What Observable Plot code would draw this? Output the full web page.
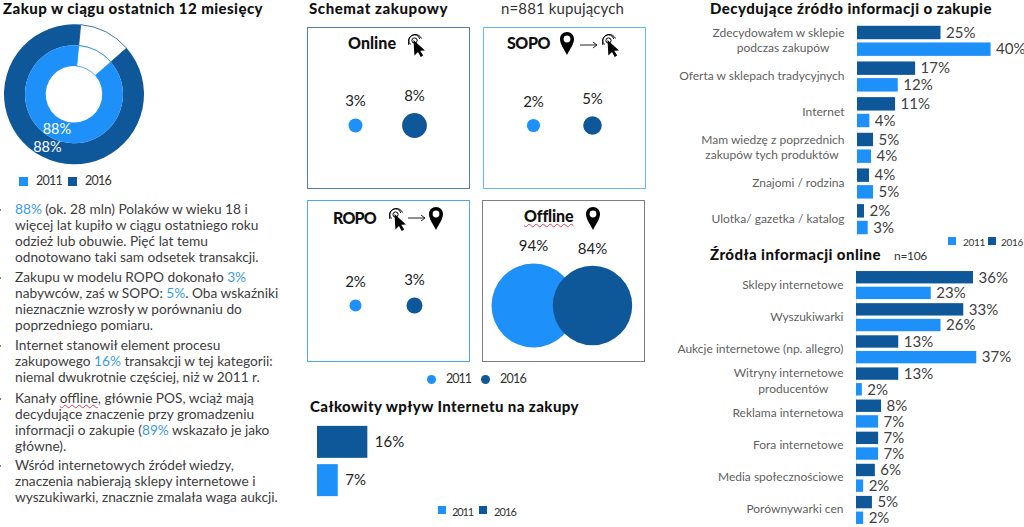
<!DOCTYPE html>
<html lang="pl"><head><meta charset="utf-8">
<script src="https://cdn.jsdelivr.net/npm/d3@7"></script>
<script src="https://cdn.jsdelivr.net/npm/@observablehq/plot@0.6"></script>
<style>
html,body{margin:0;padding:0;background:#fff;}
body{width:1024px;height:527px;position:relative;overflow:hidden;font-family:Lato,sans-serif;color:#333;}
.a{position:absolute;white-space:nowrap;line-height:1;transform:translateY(-50%);}
.plot{position:absolute;}
.plot svg{display:block;overflow:visible;background:transparent;}
.t{font-weight:900;color:#111;font-size:15px;}
.h{font-weight:900;color:#111;font-size:16px;}
.box{position:absolute;box-sizing:border-box;width:163px;height:162px;border:1.5px solid #888;}
.body{position:absolute;left:15px;font-size:13.7px;line-height:16px;color:#3d3d3d;white-space:nowrap;}
.body b{font-weight:400;color:#3a9be0;}
.bullet{position:absolute;left:-1px;width:2px;height:2px;border-radius:50%;background:#555;}
.sq{position:absolute;}
.sq.c{border-radius:50%;}
.squig{text-decoration:underline wavy #d9455f;text-decoration-thickness:1px;text-underline-offset:1px;}
</style></head><body>
<svg width="0" height="0" style="position:absolute"><defs>
<symbol id="pin" viewBox="0 0 14 23"><path fill-rule="evenodd" fill="#000" d="M7 0C3 0 0 3 0 7c0 5 4 10 7 16 3-6 7-11 7-16 0-4-3-7-7-7zm0 3.6A3.4 3.4 0 1 1 7 10.4 3.4 3.4 0 0 1 7 3.6z"/></symbol>
<symbol id="cur" viewBox="0 0 17 23"><g fill="none" stroke="#000" stroke-width="1"><circle cx="6.5" cy="6.5" r="2.6"/><path d="M2.6 10.5A5.6 5.6 0 1 1 11.8 5"/><path d="M0.9 11A7.7 7.7 0 0 1 6.5 0.5 7.7 7.7 0 0 1 13.6 4.5"/></g><path fill="#000" d="M5.5 6l11.5 10.5-4.8.3 3 4.8-2.5 1.4-2.7-5-3.6 3.4z"/></symbol>
<symbol id="arr" viewBox="0 0 18 8"><path fill="none" stroke="#222" stroke-width="1" d="M0 4h17M13 1l4 3-4 3"/></symbol>
</defs></svg>
<script>
// ---------- data ----------
const years = ["2011", "2016"];
const colors = ["#1e90fa", "#0e5799"];
const donut2011 = 88, donut2016 = 88;

const schemeOnline = [2.6, 8.2];
const schemeSopo = [2.3, 4.6];
const schemeRopo = [1.9, 3.4];
const schemeOffline = [94, 84];

const totalInternet2016 = 16, totalInternet2011 = 6.6;

const decisionCategories = ["Zdecydowałem w sklepie\npodczas zakupów\u00a0\u00a0\u00a0\u00a0\u00a0", "Oferta w sklepach tradycyjnych", "Internet", "Mam wiedzę z poprzednich\nzakupów tych produktów\u00a0\u00a0", "Znajomi / rodzina", "Ulotka/ gazetka / katalog"];
const decision2016 = [25, 17.4, 11.4, 4.8, 3.6, 2.1];
const decision2011 = [40, 12.2, 3.7, 4.2, 4.8, 3.2];

const onlineCategories = ["Sklepy internetowe", "Wyszukiwarki", "Aukcje internetowe (np. allegro)", "Witryny internetowe\nproducentów\u00a0\u00a0\u00a0\u00a0\u00a0", "Reklama internetowa", "Fora internetowe", "Media społecznościowe", "Porównywarki cen"];
const online2016 = [36, 33, 13, 13, 7.7, 6.8, 5.8, 4.9];
const online2011 = [23, 26, 37, 1.8, 6.8, 6.8, 2.2, 2.2];

// ---------- helpers ----------
const pct = v => d3.format(".0f")(v) + "%";
const F = "Lato, sans-serif";
function put(x, y, html, cls, target, size) {
  const e = document.createElement("div");
  e.className = "a " + (cls || "");
  e.style.left = x + "px"; e.style.top = y + "px";
  if (size) e.style.fontSize = size + "px";
  e.innerHTML = html;
  document.body.appendChild(e);
  if (target) { // fit the measured width of the text to the reference
    const w = e.getBoundingClientRect().width, n = e.textContent.length;
    e.style.letterSpacing = ((target - w) / n).toFixed(3) + "px";
  }
  return e;
}
function mount(x, y, node) {
  const d = document.createElement("div");
  d.className = "plot"; d.style.left = x + "px"; d.style.top = y + "px";
  d.appendChild(node); document.body.appendChild(d);
}
function swatch(x, y, s, color, round) {
  const e = document.createElement("div");
  e.className = "sq" + (round ? " c" : "");
  e.style.cssText += `left:${x}px;top:${y}px;width:${s}px;height:${s}px;background:${color}`;
  document.body.appendChild(e);
}
function icon(id, x, y, w, h) {
  const e = document.createElement("div");
  e.innerHTML = `<svg width="${w}" height="${h}" style="position:absolute;left:${x}px;top:${y}px"><use href="#${id}"/></svg>`;
  document.body.appendChild(e);
}

// ---------- donut ----------
const arcStart = 5.5 * Math.PI / 180;
function rings(v2011, v2016) {
  const pie = d3.pie().sort(null).startAngle(arcStart).endAngle(arcStart + 2 * Math.PI);
  const mk = (v, inner, outer, col) => pie([100 - v, v]).map((s, i) => ({...s, innerRadius: inner, outerRadius: outer, share: v, col, i}));
  return [...mk(v2016, 49, 70, colors[1]), ...mk(v2011, 28.3, 49, colors[0])];
}
const ringData = rings(donut2011, donut2016);
const arc = d3.arc();
const labelRows = ringData.filter(d => d.i === 1);
mount(0, 20, Plot.plot({
  width: 150, height: 150, margin: 0,
  x: {domain: [-74, 76], range: [0, 150], axis: null},
  y: {domain: [-74.3, 75.7], range: [0, 150], axis: null},
  style: {fontFamily: F, background: "transparent"},
  marks: [
    (index, scales, values, dim, ctx) => {
      const g = d3.select(ctx.document.createElementNS("http://www.w3.org/2000/svg", "g"))
        .attr("transform", `translate(${scales.x(0)},${scales.y(0)})`);
      g.selectAll("path").data(ringData).join("path")
        .attr("d", d => arc(d))
        .attr("fill", d => d.i === 0 ? "#fff" : d.col)
        .attr("stroke", d => d.i === 0 ? d.col : "none")
        .attr("stroke-width", 0.8);
      return g.node();
    },
    Plot.text(labelRows, {x: d => arc.centroid(d)[0], y: d => arc.centroid(d)[1], text: d => pct(d.share), fill: "#fff", fontSize: 14.5})
  ]
}));
swatch(19, 177, 9, colors[0]); put(36, 181, "2011", "", 26, 12.5);
swatch(68, 177, 9, colors[1]); put(85, 181, "2016", "", 26, 12.5);

// ---------- body text ----------
put(3, 7.5, "Zakup w ciągu ostatnich 12 miesięcy", "t", 260);
const bodyHtml = [
  [201, `<b>88%</b> (ok. 28 mln) Polaków w wieku 18 i<br>więcej lat kupiło w ciągu ostatniego roku<br>odzież lub obuwie. Pięć lat temu<br>odnotowano taki sam odsetek transakcji.`],
  [269, `Zakupu w modelu ROPO dokonało <b>3%</b><br>nabywców, zaś w SOPO: <b>5%</b>. Oba wskaźniki<br>nieznacznie wzrosły w porównaniu do<br>poprzedniego pomiaru.`],
  [337, `Internet stanowił element procesu<br>zakupowego <b>16%</b> transakcji w tej kategorii:<br>niemal dwukrotnie częściej, niż w 2011 r.`],
  [390, `Kanały <span class="squig">offline</span>, głównie POS, wciąż mają<br>decydujące znaczenie przy gromadzeniu<br>informacji o zakupie (<b>89%</b> wskazało je jako<br>główne).`],
  [457, `Wśród internetowych źródeł wiedzy,<br>znaczenia nabierają sklepy internetowe i<br>wyszukiwarki, znacznie zmalała waga aukcji.`]
];
for (const [top, html] of bodyHtml) {
  const p = document.createElement("div"); p.className = "body"; p.style.top = top + "px"; p.innerHTML = html;
  document.body.appendChild(p);
  const b = document.createElement("div"); b.className = "bullet"; b.style.top = (top + 8) + "px";
  document.body.appendChild(b);
}

// ---------- purchase schemes ----------
put(309, 7.5, "Schemat zakupowy", "t", 139);
put(501, 7.5, "n=881 kupujących", "", 123, 15);
const rScale = d3.scaleSqrt().domain([0, 94]).range([0, 42]);
function scheme(left, top, vals, border, marginTop, range) {
  const box = document.createElement("div"); box.className = "box";
  box.style.cssText += `left:${left}px;top:${top}px;border-color:${border}`;
  document.body.appendChild(box);
  const rows = years.map((y, i) => ({year: y, value: vals[i]}));
  mount(left, top, Plot.plot({
    width: 163, height: 162, marginTop, marginBottom: 0, marginLeft: 0, marginRight: 0,
    x: {type: "point", domain: years, range, padding: 0, axis: null},
    r: {type: "sqrt", domain: [0, 94], range: [0, 42]},
    color: {domain: years, range: colors},
    style: {fontFamily: F, background: "transparent"},
    marks: [
      Plot.dot(rows, {x: "year", r: "value", fill: "year"}),
      ...rows.map(d => Plot.text([d], {x: "year", text: r => pct(r.value), dy: -(rScale(d.value) + 17), fontSize: 15, fill: "#222"}))
    ]
  }));
}
scheme(307, 27, schemeOnline, "#4f7fa8", 34, [48, 107]);
scheme(483, 27, schemeSopo, "#62bdec", 34, [50, 109]);
scheme(307, 200, schemeRopo, "#4fa5ee", 48, [48, 107]);
scheme(482, 200, schemeOffline, "#7e7e7e", 48, [51, 110]);
put(348, 43, "Online", "h", 48);
put(507, 43, "SOPO", "h", 43);
put(333, 218, "ROPO", "h", 43);
put(524, 216, `<span class="squig">Offline</span>`, "h", 49);
icon("cur", 408, 34, 17, 23);
icon("pin", 560, 32, 14, 23); icon("arr", 580, 41, 18, 8); icon("cur", 602, 34, 17, 23);
icon("cur", 389, 208, 17, 23); icon("arr", 408, 214, 18, 8); icon("pin", 429, 207, 14, 23);
icon("pin", 586, 207, 14, 23);
swatch(426.5, 374.5, 9, colors[0], true); put(446, 379, "2011", "", 25, 12.5);
swatch(481, 374.5, 9, colors[1], true); put(500, 379, "2016", "", 26, 12.5);

// ---------- total influence ----------
put(310, 406, "Całkowity wpływ Internetu na zakupy", "t", 269);
const totalRows = [{year: "2016", value: totalInternet2016}, {year: "2011", value: totalInternet2011}];
mount(317, 423, Plot.plot({
  width: 140, height: 76, margin: 0,
  x: {domain: [0, 44.5], range: [0, 140], axis: null},
  y: {domain: ["2016", "2011"], axis: null, paddingInner: 0.165, paddingOuter: 0.075, round: false},
  color: {domain: years, range: colors},
  style: {fontFamily: F, background: "transparent"},
  marks: [
    Plot.barX(totalRows, {x: "value", y: "year", fill: "year"}),
    Plot.text(totalRows, {x: "value", y: "year", text: d => pct(d.value), dx: 7, textAnchor: "start", fontSize: 15, fill: "#222"})
  ]
}));
swatch(437.5, 506, 8, colors[0]); put(452, 511, "2011", "", 21, 11);
swatch(479, 506, 8, colors[1]); put(494, 511, "2016", "", 22, 11);

// ---------- horizontal bars ----------
function bars(top, height, marginLeft, pxPer, cats, v2016, v2011, pad) {
  const rows = cats.flatMap((c, i) => [
    {category: c, year: "2016", value: v2016[i]},
    {category: c, year: "2011", value: v2011[i]}
  ]);
  const width = 354;
  mount(670, top, Plot.plot({
    width, height, marginLeft, marginRight: 0, marginTop: 0, marginBottom: 0,
    x: {domain: [0, (width - marginLeft) / pxPer], axis: null},
    y: {domain: ["2016", "2011"], axis: null, paddingInner: pad[0], paddingOuter: pad[1], round: false},
    fy: {domain: cats, axis: null, padding: 0, round: false},
    color: {domain: years, range: colors},
    style: {fontFamily: F, background: "transparent"},
    marks: [
      Plot.axisFy({anchor: "left", tickSize: 0, tickPadding: 13, label: null, fontSize: 12, lineHeight: 1.3, dy: -2, fill: "#5f5f5f"}),
      Plot.ruleX([0], {stroke: "#ececec"}),
      Plot.barX(rows, {x: "value", y: "year", fy: "category", fill: "year"}),
      Plot.text(rows, {x: "value", y: "year", fy: "category", text: d => pct(d.value), dx: 5, textAnchor: "start", fontSize: 15, fill: "#404040"})
    ]
  }));
}
put(710, 7.5, "Decydujące źródło informacji o zakupie", "t", 282);
bars(23, 214, 187, 3.34, decisionCategories, decision2016, decision2011, [0.194, 0.167]);
swatch(948, 237, 8, colors[0]); put(963, 241.5, "2011", "", 22, 10);
swatch(988, 237, 8, colors[1]); put(1001, 241.5, "2016", "", 22, 10);
put(710, 254, "Źródła informacji online", "t", 171);
put(894, 255.5, "n=106", "", 33, 12);
bars(269, 257, 186, 3.25, onlineCategories, online2016, online2011, [0.21, 0.13]);
</script>
</body></html>
